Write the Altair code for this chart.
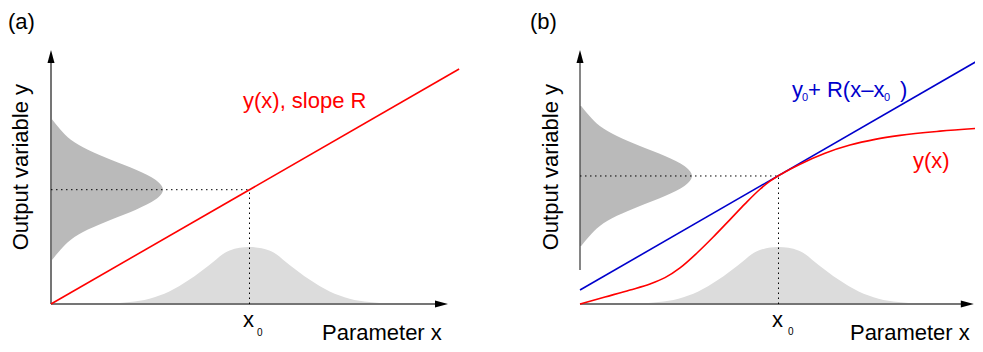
import altair as alt
import pandas as pd

# ------------------------------------------------------------------
# Values (axis units: x0 = 5, axis arrows at 10)
# ------------------------------------------------------------------
X0 = 5.0
Y0_A = 4.5
Y0_B = 5.04
AXIS_END = 10.0
XAXIS_B_END = 9.92
YAXIS_B_START = 1.34

# panel (a): linear response y(x) with slope R
line_a_x = [0.0, 10.28]
line_a_y = [0.0, 9.25]

# panel (b): nonlinear response y(x)
curve_b_x = [0.0, 0.630, 1.259, 1.763, 2.141, 2.519, 2.947, 3.350, 3.778, 4.156, 4.534,
             4.786, 4.987, 5.290, 5.542, 6.171, 6.801, 7.431, 8.060, 9.068, 10.076]
curve_b_y = [0.0, 0.276, 0.551, 0.787, 1.037, 1.421, 2.008, 2.626, 3.323, 3.943, 4.518,
             4.835, 5.039, 5.302, 5.504, 5.937, 6.256, 6.482, 6.640, 6.805, 6.923]

# panel (b): tangent line y0 + R(x - x0)
tangent_b_x = [0.0, 10.15]
tangent_b_y = [0.55, 9.70]

# output distribution (dark grey): offset from y0 and width
out_dy = [-2.76, -2.36, -1.97, -1.57, -1.18, -0.79, -0.39, 0.0,
          0.39, 0.79, 1.18, 1.57, 1.97, 2.36, 2.76]
out_w = [0.03, 0.24, 0.50, 0.93, 1.51, 2.14, 2.63, 2.82,
         2.63, 2.14, 1.51, 0.93, 0.50, 0.24, 0.03]

# parameter distribution (light grey): offset from x0 and height
par_dx = [-4.41, -4.03, -3.53, -3.02, -2.52, -2.02, -1.51, -1.01, -0.50, 0.0,
          0.50, 1.01, 1.51, 2.02, 2.52, 3.02, 3.53, 4.03, 4.41]
par_h = [0.0, 0.006, 0.02, 0.075, 0.21, 0.49, 0.96, 1.54, 2.11, 2.24,
         2.11, 1.54, 0.96, 0.49, 0.21, 0.075, 0.02, 0.006, 0.0]

# text labels
labels_a = ["(a)", "y(x), slope R", "x", "0", "Parameter x"]
labels_a_x = [-1.083, 4.836, 4.836, 5.19, 6.826]
labels_a_y = [10.83, 7.72, -0.906, -1.26, -1.40]
labels_a_color = ["black", "#ff0000", "black", "black", "black"]
labels_a_size = [22, 22, 22, 10, 22]

labels_b = ["(b)", "y", "0", "+ R(x\u2013x", "0", ")", "y(x)", "x", "0", "Parameter x"]
labels_b_x = [-1.259, 5.34, 5.59, 5.743, 7.657, 8.06, 8.388, 4.836, 5.24, 6.80]
labels_b_y = [10.83, 8.15, 7.99, 8.15, 7.99, 8.15, 5.354, -0.906, -1.22, -1.42]
labels_b_color = ["black", "#0000cc", "#0000cc", "#0000cc", "#0000cc", "#0000cc",
                  "#ff0000", "black", "black", "black"]
labels_b_size = [22, 22, 11, 22, 11, 22, 22, 22, 10, 22]

ylabel = "Output variable y"
ylabel_a_x, ylabel_b_x, ylabel_y = -0.579, -0.554, 5.39

# ------------------------------------------------------------------
# Layout
# ------------------------------------------------------------------
W, H = 967, 336
PX_X, PX_Y = 39.7, 25.4
ORIGIN_Y = 296
FONT = "Liberation Sans"

ys = alt.Scale(domain=[(ORIGIN_Y - H) / PX_Y, ORIGIN_Y / PX_Y], range=[H, 0],
               nice=False, zero=False)


def xscale(origin, r0, r1):
    return alt.Scale(domain=[(r0 - origin) / PX_X, (r1 - origin) / PX_X],
                     range=[r0, r1], nice=False, zero=False)


UP = "M0,0L-0.27,1L0.27,1Z"
RIGHT = "M0,0L-1,-0.27L-1,0.27Z"


def panel(xs, y0, xaxis_end, yaxis_start, yaxis_color, yaxis_width, lines, labels, ylabel_x):
    X = lambda f: alt.X(f, type="quantitative", scale=xs, axis=None)
    Y = lambda f: alt.Y(f, type="quantitative", scale=ys, axis=None)

    dark_df = pd.DataFrame({"y": [y0 + d for d in out_dy], "w": out_w, "base": 0.0})
    light_df = pd.DataFrame({"x": [X0 + d for d in par_dx], "h": par_h, "base": 0.0})

    light = alt.Chart(light_df).mark_area(
        orient="vertical", interpolate="monotone", color="#dcdcdc"
    ).encode(x=X("x"), y=Y("h"), y2=alt.Y2("base"))

    dark = alt.Chart(dark_df).mark_area(
        orient="horizontal", interpolate="monotone", color="#bababa"
    ).encode(y=Y("y"), x=X("w"), x2=alt.X2("base"))

    axes_df = pd.DataFrame({
        "x": [0.0, 0.0], "x2": [xaxis_end - 0.2, 0.0],
        "y": [0.0, yaxis_start], "y2": [0.0, AXIS_END - 0.3],
        "c": ["#757575", yaxis_color], "sw": [2.0, yaxis_width],
    })
    axes = alt.Chart(axes_df).mark_rule().encode(
        x=X("x"), x2=alt.X2("x2"), y=Y("y"), y2=alt.Y2("y2"),
        color=alt.Color("c:N", scale=None),
        strokeWidth=alt.StrokeWidth("sw:Q", scale=None),
    )

    dot_df = pd.DataFrame({"x": [0.0, X0], "x2": [X0, X0], "y": [y0, 0.0], "y2": [y0, y0]})
    dots = alt.Chart(dot_df).mark_rule(
        color="black", strokeWidth=1, strokeDash=[1.5, 3.5]
    ).encode(x=X("x"), x2=alt.X2("x2"), y=Y("y"), y2=alt.Y2("y2"))

    line_layers = []
    for (lx, ly, col, interp) in lines:
        df = pd.DataFrame({"x": lx, "y": ly})
        line_layers.append(
            alt.Chart(df).mark_line(color=col, strokeWidth=1.6, interpolate=interp)
            .encode(x=X("x"), y=Y("y"))
        )

    up_df = pd.DataFrame({"x": [0.0], "y": [AXIS_END]})
    right_df = pd.DataFrame({"x": [xaxis_end], "y": [0.0]})
    arrow_up = alt.Chart(up_df).mark_point(
        shape=UP, size=676, filled=True, color="black", opacity=1, strokeWidth=0
    ).encode(x=X("x"), y=Y("y"))
    arrow_right = alt.Chart(right_df).mark_point(
        shape=RIGHT, size=676, filled=True, color="black", opacity=1, strokeWidth=0
    ).encode(x=X("x"), y=Y("y"))

    tx, tyv, tt, tc, tsz = labels
    text_df = pd.DataFrame({"x": tx, "y": tyv, "t": tt, "c": tc, "s": tsz})
    texts = alt.Chart(text_df).mark_text(
        align="left", baseline="alphabetic", font=FONT
    ).encode(
        x=X("x"), y=Y("y"), text="t:N",
        color=alt.Color("c:N", scale=None), size=alt.Size("s:Q", scale=None),
    )

    yl_df = pd.DataFrame({"x": [ylabel_x], "y": [ylabel_y], "t": [ylabel]})
    ytitle = alt.Chart(yl_df).mark_text(
        align="center", baseline="alphabetic", angle=270, font=FONT,
        fontSize=22, color="black"
    ).encode(x=X("x"), y=Y("y"), text="t:N")

    return alt.layer(light, dark, axes, dots, *line_layers, arrow_up, arrow_right,
                     texts, ytitle)


xs_a = xscale(43, 0, 522)
xs_b = xscale(572, 522, W)

panel_a = panel(
    xs_a, Y0_A, AXIS_END, 0.0, "#757575", 2.0,
    [(line_a_x, line_a_y, "#ff0000", "linear")],
    (labels_a_x, labels_a_y, labels_a, labels_a_color, labels_a_size),
    ylabel_a_x,
)
panel_b = panel(
    xs_b, Y0_B, XAXIS_B_END, YAXIS_B_START, "#444444", 1.3,
    [(tangent_b_x, tangent_b_y, "#0000cc", "linear"),
     (curve_b_x, curve_b_y, "#ff0000", "monotone")],
    (labels_b_x, labels_b_y, labels_b, labels_b_color, labels_b_size),
    ylabel_b_x,
)

chart = alt.layer(panel_a, panel_b).resolve_scale(x="independent").properties(
    width=W, height=H, autosize=alt.AutoSizeParams(type="none"), padding=0,
    background="white",
).configure_view(stroke=None)

chart.save("out.html", embed_options={"renderer": "svg", "actions": False})
